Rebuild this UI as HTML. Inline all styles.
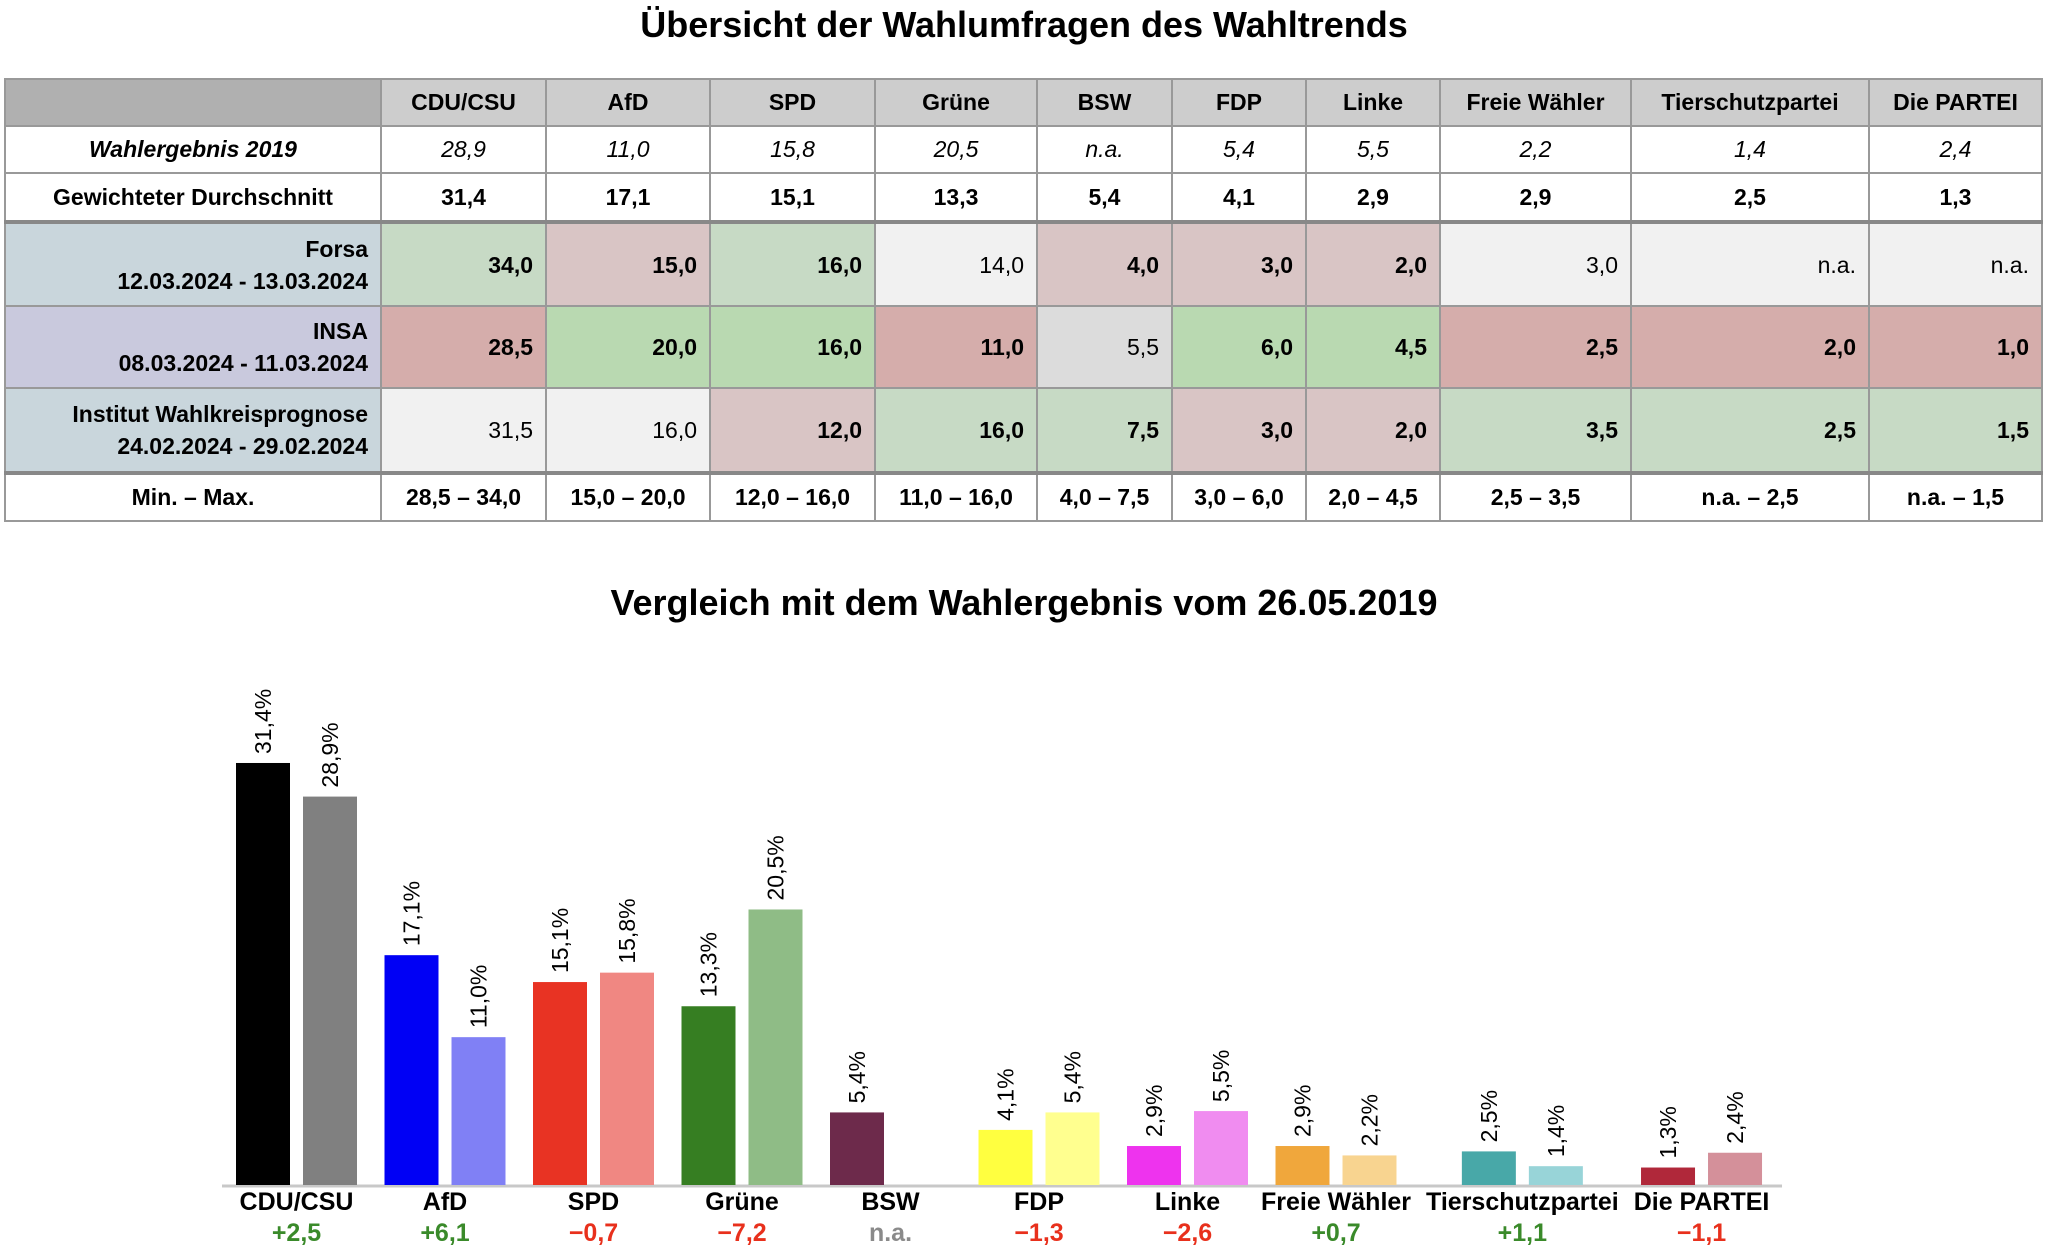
<!DOCTYPE html>
<html><head><meta charset="utf-8">
<style>
body{margin:0;width:2048px;height:1258px;background:#fff;font-family:"Liberation Sans",Arial,sans-serif;position:relative;overflow:hidden}
.title{position:absolute;left:0;width:2048px;text-align:center;font-weight:bold;font-size:36px;color:#000}
table{position:absolute;left:4px;top:78px;border-collapse:collapse;table-layout:fixed;font-size:23px;border:2px solid #333}
td{border:2px solid #999;padding:0 12px;white-space:nowrap;overflow:hidden}
tr.hd td{background:#cdcdcd;font-weight:bold;text-align:center;height:45px}
tr.hd td.lab{background:#b0b0b0}
td.lab{background:#d0d0d0;text-align:right;font-weight:bold}
tr.r1 td{font-style:italic;text-align:center;background:#fff;height:45px}
tr.r2 td{font-weight:bold;text-align:center;background:#fff;height:46px}
tr.p td{text-align:right;line-height:32px}
tr.sep td{border-top:4px solid #888}
td.fl{background:#c9d6dc}td.il{background:#c9c9dd}
td.g{background:#c7dac5;font-weight:bold}td.pk{background:#d9c5c5;font-weight:bold}
td.G{background:#b9d9b1;font-weight:bold}td.R{background:#d5adab;font-weight:bold}
td.n{background:#f1f1f1}td.nd{background:#dcdcdc}
td.sub{font-weight:normal;font-style:italic}
tr.mm td{font-weight:bold;text-align:center;background:#fff;height:45px}
</style></head><body>
<div class="title" style="top:4px">Übersicht der Wahlumfragen des Wahltrends</div>
<table>
<colgroup><col style="width:376px"><col style="width:165px"><col style="width:164px"><col style="width:165px"><col style="width:162px"><col style="width:135px"><col style="width:134px"><col style="width:134px"><col style="width:191px"><col style="width:238px"><col style="width:173px"></colgroup>
<tr class="hd"><td class="lab"></td><td>CDU/CSU</td><td>AfD</td><td>SPD</td><td>Grüne</td><td>BSW</td><td>FDP</td><td>Linke</td><td>Freie Wähler</td><td>Tierschutzpartei</td><td>Die PARTEI</td></tr>
<tr class="r1"><td class="lab">Wahlergebnis 2019</td><td>28,9</td><td>11,0</td><td>15,8</td><td>20,5</td><td>n.a.</td><td>5,4</td><td>5,5</td><td>2,2</td><td>1,4</td><td>2,4</td></tr>
<tr class="r2"><td class="lab">Gewichteter Durchschnitt</td><td>31,4</td><td>17,1</td><td>15,1</td><td>13,3</td><td>5,4</td><td>4,1</td><td>2,9</td><td>2,9</td><td>2,5</td><td>1,3</td></tr>
<tr class="p sep" style="height:84px"><td class="lab fl">Forsa<br><span class="sub">12.03.2024 - 13.03.2024</span></td><td class="g">34,0</td><td class="pk">15,0</td><td class="g">16,0</td><td class="n">14,0</td><td class="pk">4,0</td><td class="pk">3,0</td><td class="pk">2,0</td><td class="n">3,0</td><td class="n">n.a.</td><td class="n">n.a.</td></tr>
<tr class="p" style="height:82px"><td class="lab il">INSA<br><span class="sub">08.03.2024 - 11.03.2024</span></td><td class="R">28,5</td><td class="G">20,0</td><td class="G">16,0</td><td class="R">11,0</td><td class="nd">5,5</td><td class="G">6,0</td><td class="G">4,5</td><td class="R">2,5</td><td class="R">2,0</td><td class="R">1,0</td></tr>
<tr class="p" style="height:85px"><td class="lab fl">Institut Wahlkreisprognose<br><span class="sub">24.02.2024 - 29.02.2024</span></td><td class="n">31,5</td><td class="n">16,0</td><td class="pk">12,0</td><td class="g">16,0</td><td class="g">7,5</td><td class="pk">3,0</td><td class="pk">2,0</td><td class="g">3,5</td><td class="g">2,5</td><td class="g">1,5</td></tr>
<tr class="mm sep"><td class="lab">Min. – Max.</td><td>28,5 – 34,0</td><td>15,0 – 20,0</td><td>12,0 – 16,0</td><td>11,0 – 16,0</td><td>4,0 – 7,5</td><td>3,0 – 6,0</td><td>2,0 – 4,5</td><td>2,5 – 3,5</td><td>n.a. – 2,5</td><td>n.a. – 1,5</td></tr>
</table>
<div class="title" style="top:582px">Vergleich mit dem Wahlergebnis vom 26.05.2019</div>
<svg id="chart" width="2048" height="1258" style="position:absolute;left:0;top:0" xmlns="http://www.w3.org/2000/svg"></svg>
<script>
const parties=["CDU/CSU","AfD","SPD","Grüne","BSW","FDP","Linke","Freie Wähler","Tierschutzpartei","Die PARTEI"];
const pollAvg=[31.4,17.1,15.1,13.3,5.4,4.1,2.9,2.9,2.5,1.3];
const result2019=[28.9,11.0,15.8,20.5,null,5.4,5.5,2.2,1.4,2.4];
const diffLabels=["+2,5","+6,1","−0,7","−7,2","n.a.","−1,3","−2,6","+0,7","+1,1","−1,1"];
const colA=["#000000","#0000f5","#e83323","#367e22","#6d2a4b","#ffff40","#ee33ee","#f0a73c","#48a8a8","#b0283a"];
const colB=["#808080","#8080f5","#f08782","#8fbc86","#fff","#ffff8f","#f08cf0","#f8d490","#98d4d8","#d4909a"];
const NS="http://www.w3.org/2000/svg";
const svg=document.getElementById('chart');
const base=1185,pxPer=13.44,barW=54,pairGap=13;
function y(v){return base-v*pxPer;}
function fmt(v){return v.toFixed(1).replace('.',',')+'%';}
function mk(tag,at){const e=document.createElementNS(NS,tag);for(const k in at)e.setAttribute(k,at[k]);svg.appendChild(e);return e;}
// measure label widths
const widths=parties.map(p=>{const t=mk('text',{x:0,y:-100,'font-size':25,'font-weight':'bold','font-family':'Liberation Sans, Arial, sans-serif'});t.textContent=p;const w=t.getComputedTextLength();svg.removeChild(t);return w;});
let xs=[236];
for(let i=1;i<parties.length;i++){xs.push(xs[i-1]+Math.max(148.5,(widths[i-1]+widths[i])/2+15));}
const axis=mk('line',{x1:222,x2:xs[xs.length-1]+barW*2+pairGap+20,y1:base+1,y2:base+1,stroke:'#c8c8c8','stroke-width':3});


parties.forEach((p,i)=>{
  const x0=xs[i],cx=x0+barW+pairGap/2;
  const vals=[pollAvg[i],result2019[i]];
  vals.forEach((v,j)=>{
    if(v===null)return;
    const bx=x0+j*(barW+pairGap);
    const r=mk('rect',{x:bx,y:y(v),width:barW,height:v*pxPer,fill:j?colB[i]:colA[i]});
    
    
    const tx=bx+barW/2+8,ty=y(v)-9;
    const t=mk('text',{x:tx,y:ty,'font-size':23,'font-family':'Liberation Sans, Arial, sans-serif',fill:'#000',transform:`rotate(-90 ${tx} ${ty})`});
    t.textContent=fmt(v);
    
    
  });
  const l=mk('text',{x:cx,y:base+25,'text-anchor':'middle','font-size':25,'font-weight':'bold','font-family':'Liberation Sans, Arial, sans-serif'});
  l.textContent=p;
  
  
  const d=diffLabels[i];
  const c=d.startsWith('+')?'#3a8a2a':(d==='n.a.'?'#8a8a8a':'#e8301c');
  const dl=mk('text',{x:cx,y:base+56,'text-anchor':'middle','font-size':25,'font-weight':'bold',fill:c,'font-family':'Liberation Sans, Arial, sans-serif'});
  dl.textContent=d;
  
  
});
</script>
</body></html>
